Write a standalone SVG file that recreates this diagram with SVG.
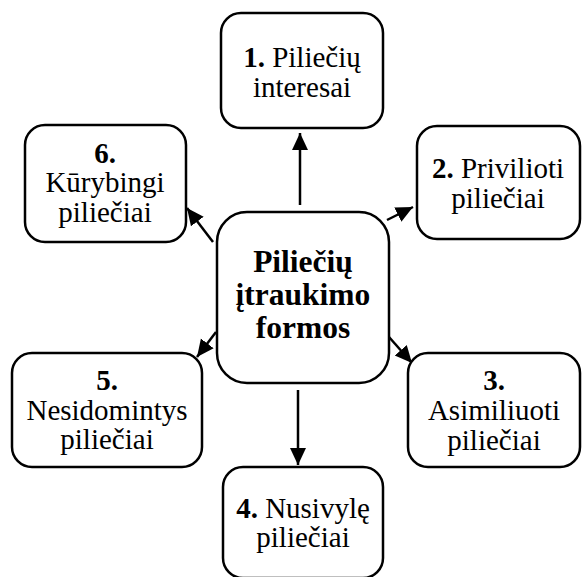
<svg xmlns="http://www.w3.org/2000/svg" width="582" height="577" viewBox="0 0 582 577">
<style>
.box{fill:#fff;stroke:#000;stroke-width:2.5}
.t{font-family:'Liberation Serif',Tinos,'Times New Roman',Times,'DejaVu Serif',serif;font-size:29px;text-anchor:middle;fill:#000}
.c{font-family:'Liberation Serif',Tinos,'Times New Roman',Times,'DejaVu Serif',serif;font-size:31.5px;font-weight:bold;text-anchor:middle;fill:#000}
.b{font-weight:bold}
.ln{stroke:#000;stroke-width:2.5;fill:none;marker-end:url(#ah)}
</style>
<defs>
<marker id="ah" markerUnits="userSpaceOnUse" markerWidth="18" markerHeight="18" viewBox="0 0 18 18" refX="17" refY="9" orient="auto">
<path d="M0,1 L17,9 L0,17 Z" fill="#000"/>
</marker>
</defs>
<rect width="582" height="577" fill="#fff"/>
<g id="connectors">
<line class="ln" x1="300" y1="205" x2="300" y2="133"/>
<line class="ln" x1="387" y1="220" x2="413" y2="207"/>
<line class="ln" x1="389" y1="337" x2="412" y2="363"/>
<line class="ln" x1="298" y1="390" x2="298" y2="465"/>
<line class="ln" x1="216" y1="332" x2="197" y2="357"/>
<line class="ln" x1="213" y1="242" x2="187" y2="208"/>
</g>
<g id="center">
<rect class="box" x="217" y="212" width="172" height="171" rx="30"/>
<text class="c" x="303" y="272">Piliečių</text>
<text class="c" x="303" y="305">įtraukimo</text>
<text class="c" x="303" y="338">formos</text>
</g>
<g id="n1">
<rect class="box" x="221" y="13" width="162" height="115" rx="20"/>
<text class="t" x="302" y="67"><tspan class="b">1.</tspan> Piliečių</text>
<text class="t" x="302" y="97">interesai</text>
</g>
<g id="n2">
<rect class="box" x="417" y="126" width="163" height="113" rx="20"/>
<text class="t" x="498" y="178"><tspan class="b">2.</tspan> Privilioti</text>
<text class="t" x="498" y="208">piliečiai</text>
</g>
<g id="n3">
<rect class="box" x="408" y="353" width="172" height="114" rx="20"/>
<text class="t b" x="494" y="390">3.</text>
<text class="t" x="494" y="420">Asimiliuoti</text>
<text class="t" x="494" y="450">piliečiai</text>
</g>
<g id="n4">
<rect class="box" x="223" y="467" width="160" height="111" rx="20"/>
<text class="t" x="303" y="518"><tspan class="b">4.</tspan> Nusivylę</text>
<text class="t" x="303" y="547">piliečiai</text>
</g>
<g id="n5">
<rect class="box" x="12" y="353" width="190" height="114" rx="20"/>
<text class="t b" x="107" y="390">5.</text>
<text class="t" x="107" y="420">Nesidomintys</text>
<text class="t" x="107" y="449">piliečiai</text>
</g>
<g id="n6">
<rect class="box" x="25" y="125" width="161" height="117" rx="20"/>
<text class="t b" x="105" y="163">6.</text>
<text class="t" x="105" y="192">Kūrybingi</text>
<text class="t" x="105" y="222">piliečiai</text>
</g>
</svg>
